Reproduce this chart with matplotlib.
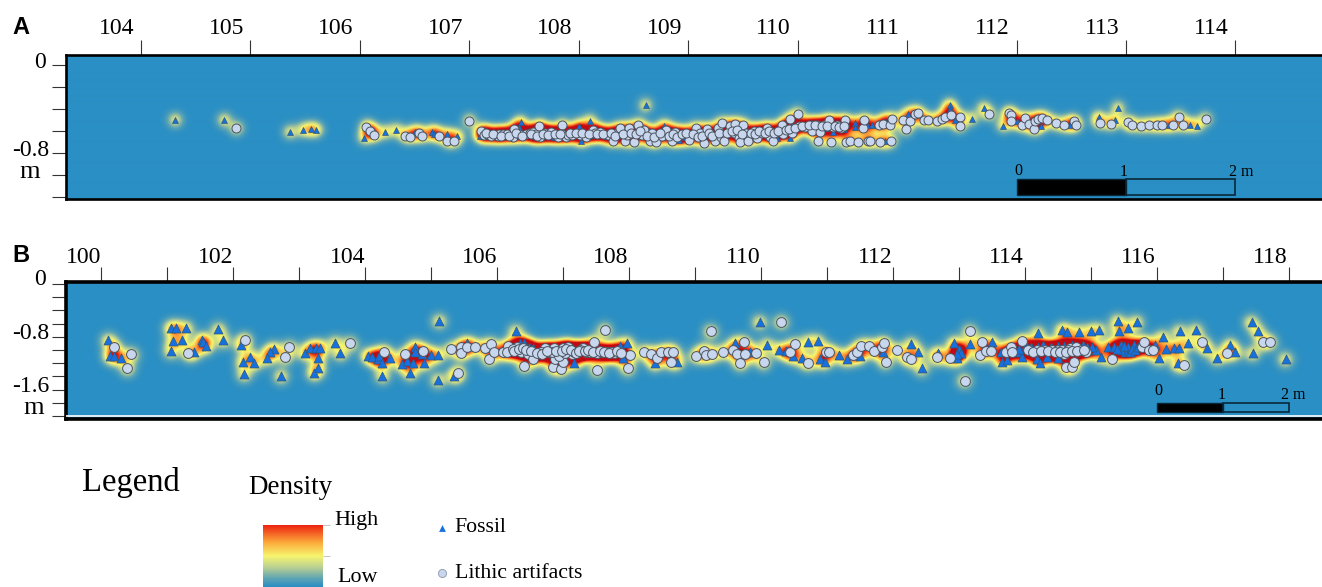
import numpy as np
import matplotlib
matplotlib.use("Agg")
import matplotlib.pyplot as plt
from matplotlib.colors import LinearSegmentedColormap
from matplotlib.transforms import ScaledTranslation
from matplotlib.patches import Rectangle

# Panel A: (easting m, depth m)
a_fossil = [(104.31,-.50),(104.76,-.50),(105.36,-.61),(105.48,-.59),(105.55,-.585),(105.60,-.59),(106.04,-.66),(106.11,-.61),
(106.23,-.61),(106.33,-.59),(106.50,-.61),(106.66,-.61),(106.68,-.625),(106.80,-.63),(106.89,-.645),(107.10,-.645),
(107.47,-.52),(107.45,-.56),(107.60,-.645),(107.65,-.585),(107.73,-.62),(107.77,-.65),(108.00,-.55),(108.02,-.59),
(108.02,-.69),(108.10,-.505),(108.13,-.635),(108.25,-.645),(108.38,-.635),(108.61,-.365),(108.78,-.553),(108.92,-.68),
(108.97,-.65),(109.81,-.66),(109.90,-.565),(109.95,-.545),(109.93,-.66),(110.26,-.575),(110.32,-.61),(110.42,-.585),
(110.52,-.53),(110.52,-.56),(110.63,-.545),(110.68,-.545),(110.80,-.505),(110.80,-.69),(111.01,-.445),(111.39,-.365),
(111.39,-.40),(111.44,-.50),(111.59,-.485),(111.70,-.39),(111.88,-.55),(112.00,-.505),(112.22,-.55),(112.49,-.545),
(112.75,-.475),(112.90,-.50),(112.93,-.39),(113.39,-.54),(113.58,-.54),(113.65,-.55)]
a_lithic = [(104.87,-.575),(106.06,-.56),(106.09,-.595),(106.13,-.635),(106.41,-.64),(106.46,-.65),(106.54,-.62),(106.57,-.645),
(106.72,-.64),(106.80,-.69),(106.86,-.69),(107.00,-.505),(107.11,-.596),(107.13,-.636),(107.16,-.627),(107.20,-.645),
(107.26,-.645),(107.27,-.627),(107.31,-.627),(107.34,-.627),(107.40,-.651),(107.41,-.584),(107.45,-.63),(107.52,-.627),
(107.55,-.614),(107.58,-.605),(107.61,-.627),(107.64,-.553),(107.65,-.651),(107.69,-.62),(107.75,-.605),(107.81,-.651),
(107.85,-.544),(107.85,-.627),(107.88,-.651),(107.90,-.639),(107.94,-.636),(108.01,-.636),(108.07,-.651),(108.13,-.59),
(108.15,-.614),(108.19,-.605),(108.27,-.636),(108.31,-.688),(108.35,-.614),(108.38,-.575),(108.42,-.688),(108.44,-.636),
(108.46,-.575),(108.50,-.697),(108.54,-.544),(108.58,-.636),(108.60,-.59),(108.65,-.688),(108.67,-.62),(108.71,-.697),
(108.76,-.64),(108.80,-.59),(108.85,-.688),(108.88,-.605),(109.01,-.68),(109.07,-.575),(109.11,-.62),(109.14,-.706),
(109.17,-.584),(109.24,-.688),(109.27,-.575),(109.31,-.529),(109.30,-.657),(109.33,-.688),(109.38,-.553),(109.42,-.62),
(109.43,-.535),(109.46,-.663),(109.47,-.697),(109.50,-.544),(109.53,-.614),(109.55,-.688),(109.60,-.596),(109.63,-.666),
(109.67,-.62),(109.72,-.569),(109.75,-.651),(109.77,-.69),(109.87,-.627),(109.86,-.547),(109.93,-.489),(109.95,-.62),
(110.00,-.441),(110.01,-.553),(110.07,-.563),(110.13,-.547),(110.13,-.60),(110.18,-.547),(110.20,-.608),(110.19,-.694),
(110.24,-.547),(110.29,-.498),(110.32,-.56),(110.36,-.547),(110.40,-.575),(110.43,-.498),(110.30,-.70),(110.44,-.697),
(110.48,-.69),(110.55,-.70),(110.60,-.575),(110.61,-.498),(110.64,-.69),(110.66,-.69),(110.74,-.547),(110.75,-.697),
(110.78,-.535),(110.84,-.544),(110.85,-.694),(110.86,-.486),(110.96,-.498),(110.99,-.581),(111.03,-.505),(111.07,-.444),
(111.10,-.431),(111.15,-.498),(111.19,-.498),(111.27,-.505),(111.32,-.492),(111.35,-.468),(111.40,-.453),(111.48,-.474),
(111.48,-.553),(111.75,-.444),(111.93,-.437),(111.95,-.453),(111.95,-.505),(112.05,-.544),(112.08,-.483),(112.11,-.535),
(112.16,-.581),(112.17,-.505),(112.20,-.492),(112.23,-.483),(112.28,-.498),(112.36,-.529),(112.43,-.544),(112.52,-.511),
(112.54,-.544),(112.76,-.523),(112.86,-.535),(113.02,-.52),(113.05,-.547),(113.14,-.553),(113.21,-.544),(113.28,-.547),
(113.33,-.544),(113.43,-.544),(113.48,-.468),(113.52,-.544),(113.73,-.489),
(107.15,-.62),(107.22,-.63),(107.29,-.64),(107.36,-.64),(107.43,-.62),(107.48,-.64),(107.56,-.63),(107.62,-.64),(107.67,-.63),
(107.72,-.635),(107.78,-.63),(107.83,-.63),(107.92,-.62),(107.97,-.62),(108.03,-.62),(108.09,-.63),(108.17,-.63),(108.22,-.63),
(108.29,-.62),(108.33,-.64),(108.40,-.63),(108.48,-.62),(108.52,-.63),(108.56,-.60),(108.62,-.64),(108.69,-.65),(108.74,-.62),
(108.82,-.64),(108.86,-.63),(108.90,-.65),(108.94,-.63),(108.98,-.62),(109.04,-.63),(109.09,-.65),(109.13,-.64),(109.19,-.62),
(109.22,-.64),(109.28,-.62),(109.35,-.62),(109.40,-.60),(109.45,-.59),(109.49,-.63),(109.57,-.62),(109.61,-.63),(109.65,-.60),
(109.70,-.62),(109.74,-.60),(109.78,-.62),(109.82,-.60),(109.89,-.59),(109.92,-.58),(109.98,-.57),(110.04,-.55),(110.10,-.54),
(110.16,-.54),(110.22,-.55),(110.27,-.55),(110.34,-.55),(110.38,-.56),(110.42,-.55)]

# Panel B: (easting m, depth m)
b_fossil = [(100.10,-.85),(100.13,-1.087),(100.19,-1.087),(100.29,-1.117),(101.05,-.662),(101.13,-.662),(101.28,-.662),(101.08,-.865),
(101.22,-.854),(101.05,-1.016),(101.40,-1.026),(101.53,-.85),(101.54,-.875),(101.58,-.945),(101.77,-.683),(101.84,-.854),
(102.12,-.92),(102.25,-1.10),(102.14,-1.178),(102.32,-1.198),(102.16,-1.37),(102.62,-.986),(102.55,-1.036),(102.51,-1.117),
(102.72,-1.40),(103.08,-1.046),(103.17,-.976),(103.25,-.966),(103.32,-.966),(103.28,-1.117),(103.28,-1.279),(103.22,-1.355),
(103.54,-.89),(103.62,-1.052),(104.04,-1.087),(104.11,-1.102),(104.19,-1.138),(104.21,-1.087),(104.26,-1.193),(104.38,-1.117),
(104.26,-1.395),(104.56,-1.218),(104.64,-1.168),(104.72,-1.193),(104.75,-.95),(104.75,-1.036),(104.68,-1.355),(104.86,-1.067),
(104.89,-1.203),(105.00,-1.077),(105.10,-1.077),(105.12,-.556),(105.10,-1.461),(105.35,-1.40),(105.54,-.90),(106.28,-.713),
(106.34,-.90),(106.41,-.90),(106.49,-.95),(106.55,-.976),(107.86,-.94),(107.97,-.90),(107.91,-1.127),(107.17,-1.203),
(108.39,-1.203),(108.73,-1.178),(109.98,-.571),(109.61,-.90),(109.83,-1.026),(110.09,-.92),(110.27,-1.0),(110.38,-1.016),
(110.49,-1.087),(110.71,-.875),(110.86,-.865),(110.63,-1.127),(110.89,-1.138),(110.97,-1.178),(111.18,-1.077),(111.30,-1.138),
(111.50,-1.087),(111.85,-1.036),(112.28,-.91),(112.38,-1.036),(112.44,-1.279),(112.69,-1.052),(112.93,-.89),(113.01,-1.026),
(112.97,-1.117),(113.17,-.91),(113.50,-.875),(113.65,-1.178),(113.73,-1.153),(113.64,-1.036),(113.89,-1.026),(113.96,-1.112),
(114.20,-.738),(114.18,-1.138),(114.23,-1.203),(114.34,-1.102),(114.51,-1.117),(114.57,-.698),(114.64,-.723),(114.82,-.723),
(115.00,-.713),(115.13,-.698),(115.08,-1.0),(115.16,-1.102),(115.27,-.95),(115.36,-.95),(115.46,-.925),(115.41,-.556),
(115.70,-.571),(115.43,-.708),(115.56,-.672),(115.52,-1.026),(115.59,-1.026),(115.56,-.95),(115.65,-.925),(115.97,-.925),
(116.09,-.80),(116.14,-.99),(116.04,-1.127),(116.26,-.976),(116.34,-.976),(116.35,-.713),(116.60,-.698),(116.47,-.89),
(116.76,-.976),(116.32,-1.203),(116.92,-1.117),(117.12,-.925),(117.19,-1.036),(117.44,-.571),(117.54,-.713),(117.46,-1.052),
(117.96,-1.138),(114.20,-.95),(114.40,-.96),(114.60,-.94),(114.95,-.95),
(113.00,-.98),(113.04,-1.04),(112.98,-1.06),(113.92,-.98),(114.02,-.93),(114.10,-.95),(114.28,-.93),(114.50,-.94),(114.72,-.92),
(114.88,-.93),(115.02,-.96),(115.46,-1.0),(115.50,-.94),(115.62,-.98),(115.68,-1.0),(115.72,-.96),(115.40,-.98)]
b_lithic = [(100.19,-.95),(100.45,-1.067),(100.39,-1.279),(101.32,-1.052),(102.17,-.844),(102.85,-.96),(102.78,-1.107),(103.77,-.90),
(104.28,-1.026),(104.61,-1.067),(104.88,-1.011),(105.41,-1.35),(105.30,-.986),(105.45,-.95),(105.46,-1.052),(105.55,-.96),
(105.66,-.95),(105.81,-.966),(105.88,-1.138),(105.90,-.915),(105.95,-1.026),(106.09,-1.026),(106.17,-.935),(106.15,-1.036),
(106.30,-.95),(106.36,-1.036),(106.41,-1.244),(106.47,-1.062),(106.55,-1.138),(106.73,-.976),(106.73,-1.036),(106.79,-1.036),
(106.84,-1.264),(106.87,-.976),(106.88,-1.138),(106.97,-1.289),(107.00,-1.188),(107.00,-.966),(107.06,-1.011),(107.08,-.95),
(107.13,-1.067),(107.22,-1.036),(107.30,-.976),(107.35,-1.036),(107.47,-.875),(107.51,-1.304),(107.52,-1.052),(107.63,-.693),
(107.67,-1.036),(107.78,-1.042),(107.98,-1.279),(108.01,-1.077),(108.23,-1.026),(108.33,-1.067),(108.43,-1.117),(106.66,-1.026),
(106.83,-1.026),(106.94,-1.087),(107.03,-1.052),(107.17,-1.026),(107.26,-1.0),(107.41,-1.036),(107.59,-1.036),(107.73,-1.036),
(108.49,-1.036),(108.59,-1.026),(108.67,-1.026),(108.64,-1.178),(109.02,-1.087),(109.13,-1.011),(109.16,-1.077),(109.26,-1.067),
(109.42,-1.026),(109.57,-1.0),(109.24,-.713),(109.64,-1.067),(109.69,-1.203),(109.74,-.885),(109.76,-1.067),(109.92,-1.046),
(110.04,-1.188),(110.31,-.571),(110.44,-1.036),(110.51,-.915),(110.72,-1.203),(110.98,-1.036),(111.04,-1.026),(111.40,-1.077),
(111.45,-1.036),(111.52,-.94),(111.64,-.935),(111.72,-1.016),(111.83,-.95),(111.87,-.90),(111.89,-1.178),(112.07,-1.0),
(112.21,-1.102),(112.28,-1.138),(112.67,-1.107),(112.86,-1.127),(113.09,-1.466),(113.17,-.713),(113.32,-1.077),(113.35,-.885),
(113.41,-1.011),(113.49,-1.011),(113.71,-1.026),(113.79,-.95),(113.80,-1.036),(113.96,-.86),(114.05,-1.0),(114.18,-1.0),
(114.31,-1.0),(114.42,-1.0),(114.60,-1.062),(114.63,-1.264),(114.71,-1.254),(114.74,-1.188),(114.69,-.976),(114.78,-.95),
(114.85,-1.0),(114.93,-1.026),(115.33,-1.143),(115.78,-.95),(115.88,-1.0),(115.95,-1.0),(115.81,-.885),(116.41,-1.229),
(116.69,-.885),(117.07,-1.052),(117.62,-.875),(117.72,-.875),(114.50,-1.0),(114.57,-1.0),(114.65,-1.0),
(106.24,-.98),(106.26,-1.02),(106.33,-.99),(106.39,-.97),(106.44,-1.0),(106.52,-1.01),(106.60,-1.04),(106.68,-1.06),(106.76,-1.01),
(106.90,-1.01),(106.98,-1.02),(107.04,-.99),(107.12,-1.0),(107.19,-1.05),(107.24,-1.01),(107.33,-1.01),(107.38,-1.0),(107.45,-1.03),
(107.56,-1.02),(107.62,-1.03),(107.70,-1.05),(107.82,-1.02),(107.88,-1.05),
(114.12,-1.03),(114.24,-1.02),(114.36,-1.02),(114.46,-1.03),(114.54,-1.03),(114.62,-1.03),(114.72,-1.02),(114.80,-1.02),(114.90,-1.0)]

a_xticks = list(range(104, 115))
b_xticks = list(range(100, 119))
b_xlabelled = [100, 102, 104, 106, 108, 110, 112, 114, 116, 118]
a_yticks = [0, -.2, -.4, -.6, -.8, -1.0, -1.2]
a_ylabels = ['0', '', '', '', '-0.8', 'm', '']
b_yticks = [0, -.2, -.4, -.6, -.8, -1.0, -1.2, -1.4, -1.6, -1.8, -2.0]
b_ylabels = ['0', '', '', '', '-0.8', '', '', '', '-1.6', 'm', '']

W, H = 1322, 587
SERIF = 'Liberation Serif'
BLUE = '#2A8FC4'
FOSSIL = '#1770E0'
LITHIC = '#C8D6EE'
cmap = LinearSegmentedColormap.from_list('dens', [(0, BLUE), (.12, '#5DA4B4'), (.28, '#B8CF94'), (.45, '#F7F56E'),
                                                  (.65, '#FBA93A'), (.9, '#EE2410'), (1, '#C00A14')])

fig = plt.figure(figsize=(W / 100, H / 100), dpi=100)
fig.patch.set_facecolor('white')


def px_axes(l, t, r, b, **kw):
    return fig.add_axes([l / W, 1 - b / H, (r - l) / W, (b - t) / H], **kw)


def panel(box, xlim, ylim, fossil, lithic, sigma, vmax, fs, ls, xt, xl, xshift, xpad, yt, yl, ylshift, lw):
    ax = px_axes(*box)
    ax.set_xlim(*xlim)
    ax.set_ylim(*ylim)
    nx, ny = int(box[2] - box[0]), int(box[3] - box[1])
    gx = np.linspace(*xlim, nx)
    gy = np.linspace(*ylim, ny)
    pts = np.array(fossil + lithic)
    X, Y = np.meshgrid(gx, gy)
    Z = np.zeros_like(X)
    for px_, py_ in pts:
        Z += np.exp(-((X - px_) ** 2 + (Y - py_) ** 2) / (2 * sigma ** 2))
    ax.imshow(Z, extent=[*xlim, *ylim], origin='lower', cmap=cmap, vmin=0, vmax=vmax, aspect='auto',
              interpolation='bilinear', zorder=1)
    f = np.array(fossil)
    l = np.array(lithic)
    ax.scatter(f[:, 0], f[:, 1], marker='^', s=fs, c=FOSSIL, edgecolors='#2F5878', linewidths=.5, zorder=3)
    ax.scatter(l[:, 0], l[:, 1], marker='o', s=ls, c=LITHIC, edgecolors='#4A5560', linewidths=.7, zorder=4)
    ax.xaxis.tick_top()
    ax.set_xticks(xt)
    ax.set_xticklabels([str(v) if v in xl else '' for v in xt], family=SERIF, fontsize=17)
    ax.set_yticks(yt)
    ax.set_yticklabels(yl, family=SERIF)
    ax.tick_params(axis='x', length=10.5, width=.8, color='#333333', pad=xpad)
    ax.tick_params(axis='y', length=10, width=.8, color='#333333', pad=2)
    for lab in ax.get_xticklabels():
        lab.set_transform(lab.get_transform() + ScaledTranslation(xshift / 100, 0, fig.dpi_scale_trans))
    for lab, txt in zip(ax.get_yticklabels(), yl):
        dx, dy = ylshift.get(txt, (0, 5))
        lab.set_fontsize(19 if txt == 'm' else 17)
        lab.set_transform(lab.get_transform() + ScaledTranslation(dx / 100, dy / 100, fig.dpi_scale_trans))
    for s in ax.spines.values():
        s.set_linewidth(lw)
        s.set_color('black')
    return ax


axA = panel((66, 54.5, 1324, 199), (103.315, 104 + (1324 - 141) / 109.45), (-1.22, .1), a_fossil, a_lithic,
            .05, 2.9, 18, 42, a_xticks, a_xticks, -24, 0.8, a_yticks, a_ylabels,
            {'0': (-3, 5), '-0.8': (0, 5), 'm': (-9, 5)}, 1.9)
axB = panel((66, 281.5, 1324, 418.5), (99.463, 100 + (1324 - 101.4) / 65.95), (-2.04, .04), b_fossil, b_lithic,
            .09, 2.7, 42, 50, b_xticks, b_xlabelled, -18, -0.8, b_yticks, b_ylabels,
            {'0': (-3, 7), '-0.8': (0, 6), '-1.6': (0, 6), 'm': (-5, -3)}, 2.6)
axB.axhline(-2.0, color='white', lw=1.2, zorder=5)

# scale bars
for ax, x0, ytop, ybot, step in [(axA, 112, -1.037, -1.183, 1), (axB, 116, -1.80, -1.944, 1)]:
    ax.add_patch(Rectangle((x0, ybot), step, ytop - ybot, fc='black', ec='#08283A', lw=1, zorder=6))
    ax.add_patch(Rectangle((x0 + step, ybot), step, ytop - ybot, fc='none', ec='#08283A', lw=1.2, zorder=6))
for ax, x0, ty1, ty2, dxm in [(axA, 112, -.965, -.975, .05), (axB, 116, -1.63, -1.68, .07)]:
    ax.text(x0 + .02, ty1, '0', family=SERIF, fontsize=11.5, ha='center', va='center', zorder=6)
    ax.text(x0 + .98, ty2, '1', family=SERIF, fontsize=11.5, ha='center', va='center', zorder=6)
    ax.text(x0 + 2 + dxm, ty2, '2 m', family=SERIF, fontsize=11.5, ha='center', va='center', zorder=6)


def ftext(x, y, s, size, **kw):
    fig.text(x / W, 1 - y / H, s, fontsize=size, va='center', **kw)


ftext(12, 28, 'A', 17, family='Liberation Sans', weight='bold')
ftext(12, 256, 'B', 17, family='Liberation Sans', weight='bold')
ftext(82, 483, 'Legend', 23.5, family=SERIF)
ftext(248, 488, 'Density', 19.5, family=SERIF)
ftext(334, 521, 'High', 15.8, family=SERIF)
ftext(337, 578, 'Low', 15.8, family=SERIF)
ftext(454, 528, 'Fossil', 15.7, family=SERIF)
ftext(455, 574, 'Lithic artifacts', 15.7, family=SERIF)

cax = px_axes(263, 525, 323, 587)
cax.imshow(np.linspace(.9, 0, 200)[:, None], cmap=cmap, vmin=0, vmax=1, aspect='auto', extent=[0, 1, 0, 1])
cax.set_xticks([])
cax.yaxis.tick_right()
cax.set_yticks([0, .5, 1])
cax.set_yticklabels([])
cax.tick_params(axis='y', length=5, width=.6, color='#BBBBBB')
for s in cax.spines.values():
    s.set_visible(False)

leg = fig.add_axes([0, 0, 1, 1], facecolor='none')
leg.set_xlim(0, W)
leg.set_ylim(H, 0)
leg.axis('off')
leg.scatter([442], [528], marker='^', s=24, c=FOSSIL, linewidths=0)
leg.scatter([442], [573], marker='o', s=34, c=LITHIC, edgecolors='#8A96A8', linewidths=.6)

fig.savefig('out.png', dpi=100)
